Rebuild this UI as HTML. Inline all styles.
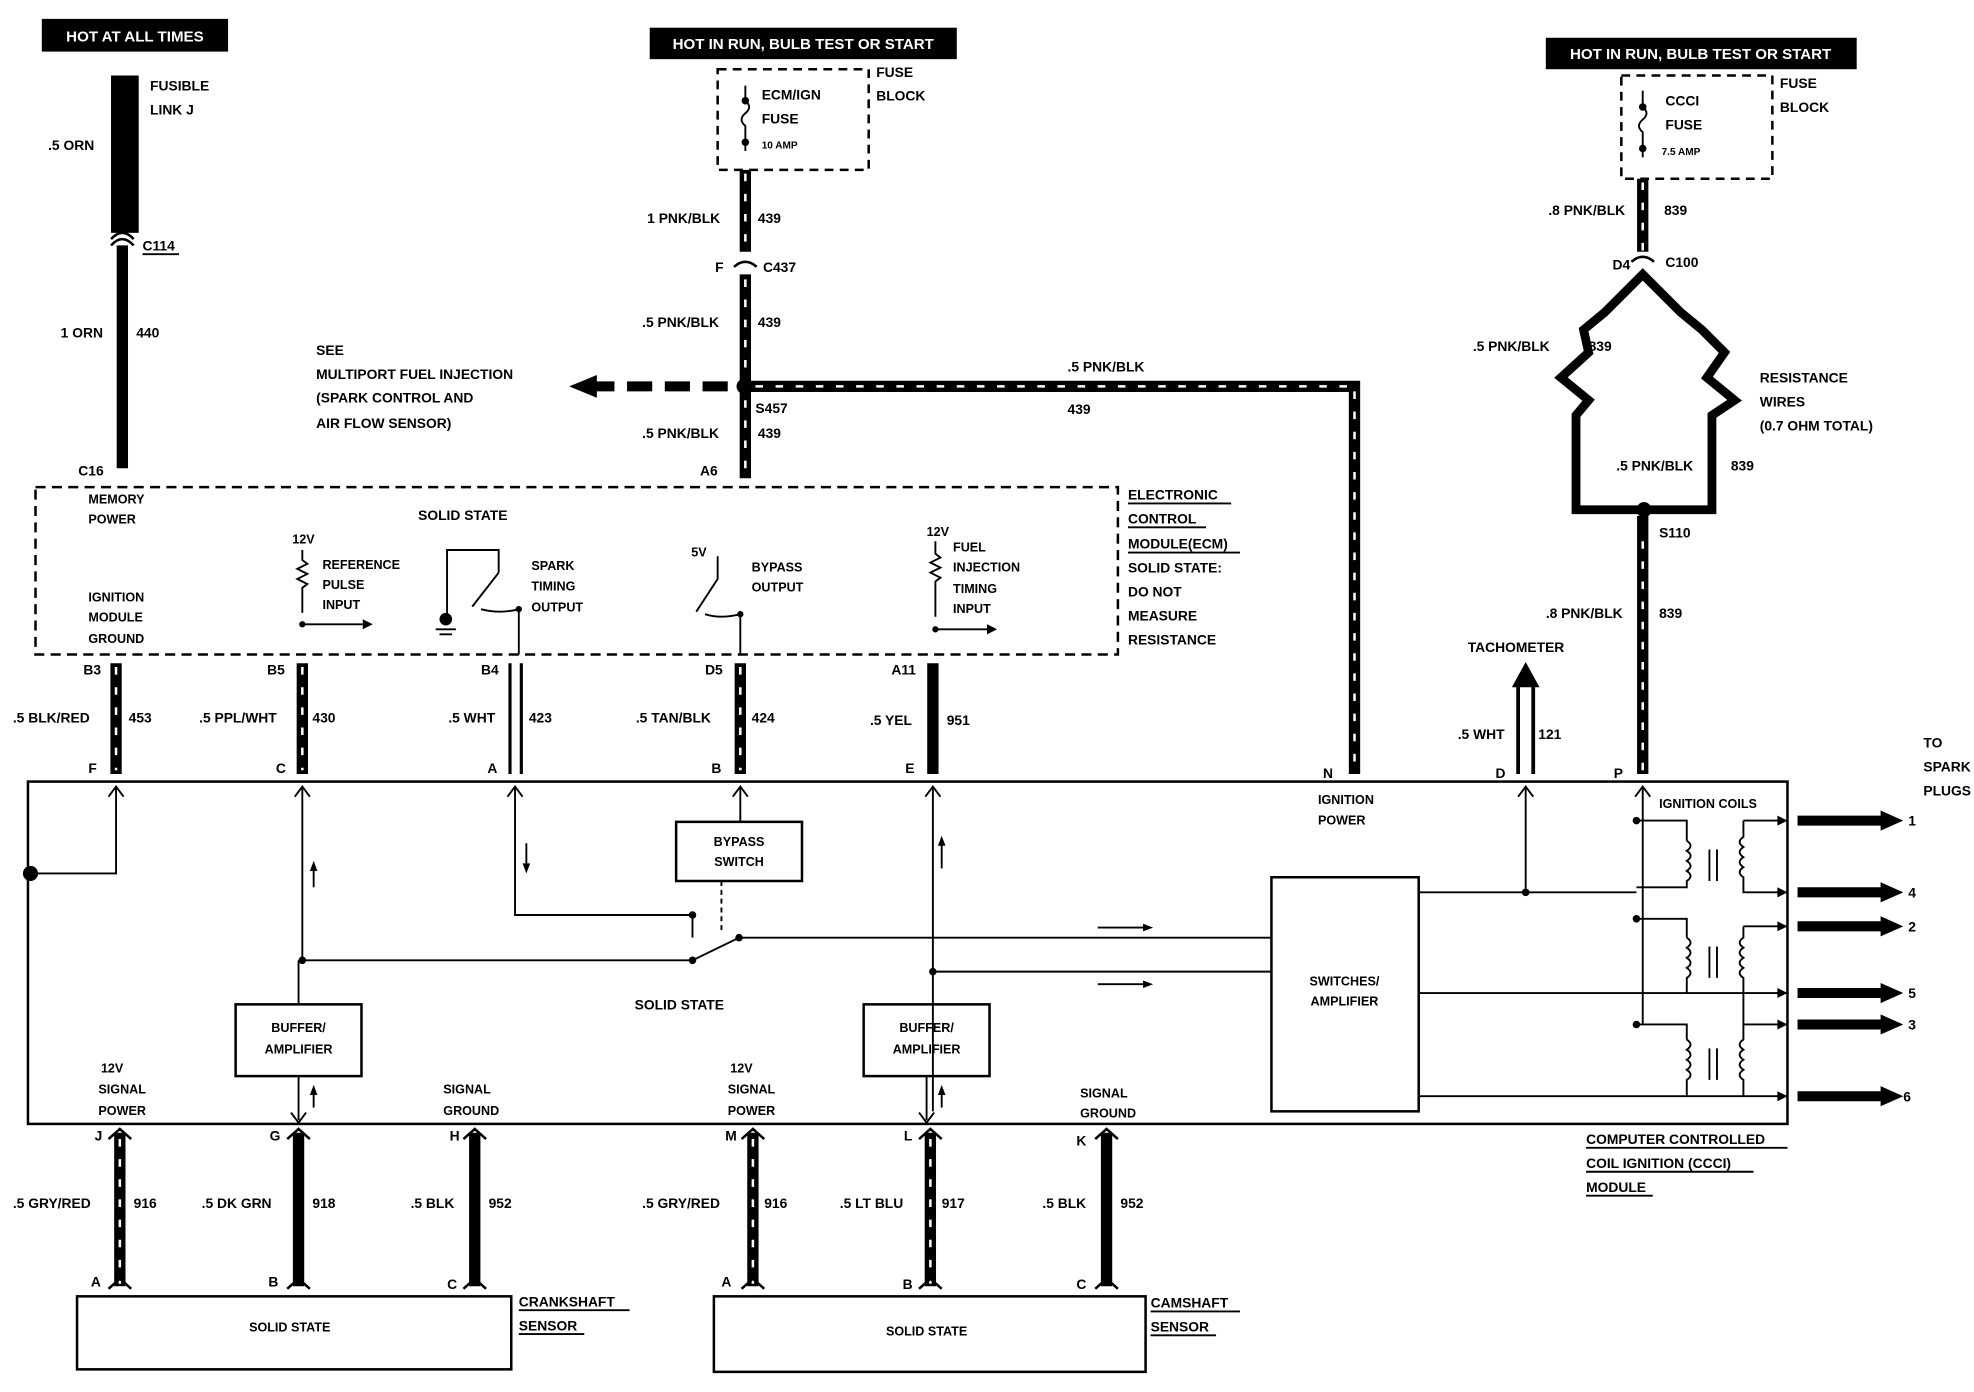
<!DOCTYPE html>
<html><head><style>
html,body{margin:0;padding:0;background:#fff}
svg{display:block}
text{font-family:"Liberation Sans",sans-serif;font-weight:bold;font-size:11px;fill:#000}
.w{stroke:#000;stroke-width:9;fill:none}
.s{stroke:#fff;stroke-width:2;stroke-dasharray:6 10;fill:none}
.l{stroke:#000;stroke-width:1.5;fill:none}
.b{stroke:#000;stroke-width:2;fill:none}
</style></head><body>
<svg width="1974" height="1392" viewBox="0 0 1568 1106" xmlns="http://www.w3.org/2000/svg">
<rect width="1568" height="1106" fill="#fff"/>
<!-- header labels -->
<rect x="33" y="15" width="148" height="26" fill="#000"/><text x="107" y="33" text-anchor="middle" style="fill:#fff;font-size:12px">HOT AT ALL TIMES</text>
<rect x="516" y="22" width="244" height="25" fill="#000"/><text x="638" y="39" text-anchor="middle" style="fill:#fff;font-size:12px">HOT IN RUN, BULB TEST OR START</text>
<rect x="1228" y="30" width="247" height="25" fill="#000"/><text x="1351" y="47" text-anchor="middle" style="fill:#fff;font-size:12px">HOT IN RUN, BULB TEST OR START</text>

<!-- fusible link -->
<rect x="88" y="60" width="22" height="125" fill="#000"/>
<text x="119" y="72">FUSIBLE</text><text x="119" y="91">LINK J</text>
<text x="38" y="119">.5 ORN</text>
<path class="b" d="M88 195 Q97 185 106 195"/><path class="b" d="M88 190 Q97 180 106 190"/>
<text x="113" y="199">C114</text><line class="l" x1="113" y1="202" x2="142" y2="202"/>
<line class="w" x1="97" y1="195" x2="97" y2="372"/>
<text x="48" y="268">1 ORN</text><text x="108" y="268">440</text>
<text x="62" y="378">C16</text>

<!-- ECM fuse -->
<rect x="570" y="55" width="120" height="80" class="b" stroke-dasharray="7 5"/>
<text x="605" y="79">ECM/IGN</text><text x="605" y="98">FUSE</text><text x="605" y="118" style="font-size:8px">10 AMP</text>
<text x="696" y="61">FUSE</text><text x="696" y="80">BLOCK</text>
<path class="l" d="M592 68 V80 q6 5 0 10 q-6 5 0 10 V120"/><circle cx="592" cy="80" r="3"/><circle cx="592" cy="113" r="3"/>
<line class="w" x1="592" y1="135" x2="592" y2="200"/><line class="s" x1="592" y1="138" x2="592" y2="200"/>
<text x="514" y="177">1 PNK/BLK</text><text x="602" y="177">439</text>
<text x="568" y="216">F</text><text x="606" y="216">C437</text>
<path class="b" d="M583 212 Q592 204 601 212"/>
<line class="w" x1="592" y1="218" x2="592" y2="380"/><line class="s" x1="592" y1="222" x2="592" y2="380"/>
<text x="510" y="260">.5 PNK/BLK</text><text x="602" y="260">439</text>
<text x="510" y="348">.5 PNK/BLK</text><text x="602" y="348">439</text>
<text x="600" y="328">S457</text>
<text x="556" y="378">A6</text>
<circle cx="591" cy="307" r="6"/>
<line x1="468" y1="307" x2="586" y2="307" stroke="#000" stroke-width="8" stroke-dasharray="20 10"/>
<polygon points="452,307 474,298 474,316"/>
<path class="w" d="M596 307 H1076 V615"/><path class="s" d="M600 307 H1076 V612"/>
<text x="848" y="295">.5 PNK/BLK</text><text x="848" y="329">439</text>
<text x="251" y="282">SEE</text><text x="251" y="301">MULTIPORT FUEL INJECTION</text><text x="251" y="320">(SPARK CONTROL AND</text><text x="251" y="340">AIR FLOW SENSOR)</text>

<!-- CCCI fuse -->
<rect x="1288" y="60" width="120" height="82" class="b" stroke-dasharray="7 5"/>
<text x="1323" y="84">CCCI</text><text x="1323" y="103">FUSE</text><text x="1320" y="123" style="font-size:8px">7.5 AMP</text>
<text x="1414" y="70">FUSE</text><text x="1414" y="89">BLOCK</text>
<path class="l" d="M1305 72 V85 q6 5 0 10 q-6 5 0 10 V125"/><circle cx="1305" cy="85" r="3"/><circle cx="1305" cy="118" r="3"/>
<line class="w" x1="1305" y1="142" x2="1305" y2="200"/><line class="s" x1="1305" y1="145" x2="1305" y2="200"/>
<text x="1230" y="171">.8 PNK/BLK</text><text x="1322" y="171">839</text>
<text x="1281" y="214">D4</text><text x="1323" y="212">C100</text>
<path class="b" d="M1296 208 Q1305 200 1314 208"/>
<path d="M1305 218 L1275 248 L1258 262 L1262 280 L1240 300 L1262 318 L1252 330 L1252 405 H1360 V330 L1378 318 L1356 300 L1370 280 L1352 262 L1335 248 Z" stroke="#000" stroke-width="7" fill="none"/>
<text x="1170" y="279">.5 PNK/BLK</text><text x="1262" y="279">839</text>
<text x="1284" y="374">.5 PNK/BLK</text><text x="1375" y="374">839</text>
<text x="1398" y="304">RESISTANCE</text><text x="1398" y="323">WIRES</text><text x="1398" y="342">(0.7 OHM TOTAL)</text>
<circle cx="1306" cy="405" r="6"/>
<line class="w" x1="1305" y1="410" x2="1305" y2="615"/><line class="s" x1="1305" y1="430" x2="1305" y2="612"/>
<text x="1318" y="427">S110</text>
<text x="1228" y="491">.8 PNK/BLK</text><text x="1318" y="491">839</text>
<text x="1166" y="518">TACHOMETER</text>
<path d="M1206 615 V542 H1218 V615" stroke="#000" stroke-width="3" fill="#fff"/>
<polygon points="1201,546 1212,526 1223,546"/>
<text x="1158" y="587">.5 WHT</text><text x="1222" y="587">121</text>

<!-- ECM box -->
<rect x="28" y="387" width="860" height="133" class="b" stroke-dasharray="8 5"/>
<text x="70" y="400" style="font-size:10px">MEMORY</text><text x="70" y="416" style="font-size:10px">POWER</text>
<text x="332" y="413">SOLID STATE</text>
<text x="70" y="478" style="font-size:10px">IGNITION</text><text x="70" y="494" style="font-size:10px">MODULE</text><text x="70" y="511" style="font-size:10px">GROUND</text>
<text x="232" y="432" style="font-size:10px">12V</text>
<text x="256" y="452" style="font-size:10px">REFERENCE</text><text x="256" y="468" style="font-size:10px">PULSE</text><text x="256" y="484" style="font-size:10px">INPUT</text>
<path class="l" d="M240 437 v8 l4 3 -8 4 8 4 -8 4 8 4 -4 3 v20 M240 496 H288"/><circle cx="240" cy="496" r="2.5"/>
<polygon points="288,492 296,496 288,500"/>
<text x="422" y="453" style="font-size:10px">SPARK</text><text x="422" y="469" style="font-size:10px">TIMING</text><text x="422" y="486" style="font-size:10px">OUTPUT</text>
<path class="l" d="M355 490 V437 H396 V455 M396 455 L375 482 M382 484 q15 4 30 0 M412 484 V520"/>
<circle cx="354" cy="492" r="5"/><circle cx="412" cy="484" r="2.5"/>
<line class="l" x1="346" y1="500" x2="362" y2="500"/><line class="l" x1="349" y1="504" x2="359" y2="504"/>
<text x="549" y="442" style="font-size:10px">5V</text>
<text x="597" y="454" style="font-size:10px">BYPASS</text><text x="597" y="470" style="font-size:10px">OUTPUT</text>
<path class="l" d="M570 442 V460 L553 486 M560 488 q12 4 28 0 M588 488 V520"/><circle cx="588" cy="488" r="2.5"/>
<text x="736" y="426" style="font-size:10px">12V</text>
<text x="757" y="438" style="font-size:10px">FUEL</text><text x="757" y="454" style="font-size:10px">INJECTION</text><text x="757" y="471" style="font-size:10px">TIMING</text><text x="757" y="487" style="font-size:10px">INPUT</text>
<path class="l" d="M743 430 v10 l4 3 -8 4 8 4 -8 4 8 4 -4 3 v28 M743 500 H784"/><circle cx="743" cy="500" r="2.5"/>
<polygon points="784,496 792,500 784,504"/>
<text x="896" y="397">ELECTRONIC</text><text x="896" y="416">CONTROL</text><text x="896" y="436">MODULE(ECM)</text>
<line class="l" x1="896" y1="400" x2="978" y2="400"/><line class="l" x1="896" y1="419" x2="958" y2="419"/><line class="l" x1="896" y1="439" x2="985" y2="439"/>
<text x="896" y="455">SOLID STATE:</text><text x="896" y="474">DO NOT</text><text x="896" y="493">MEASURE</text><text x="896" y="512">RESISTANCE</text>

<!-- ECM to CCCI wires -->
<g>
<line class="w" x1="92" y1="527" x2="92" y2="615"/><line class="s" x1="92" y1="530" x2="92" y2="612"/>
<line class="w" x1="240" y1="527" x2="240" y2="615"/><line class="s" x1="240" y1="530" x2="240" y2="612"/>
<path d="M405 527 V615 M414 527 V615" stroke="#000" stroke-width="2.5"/>
<line class="w" x1="588" y1="527" x2="588" y2="615"/><line class="s" x1="588" y1="530" x2="588" y2="612"/>
<line class="w" x1="741" y1="527" x2="741" y2="615"/>
</g>
<text x="66" y="536">B3</text><text x="212" y="536">B5</text><text x="382" y="536">B4</text><text x="560" y="536">D5</text><text x="708" y="536">A11</text>
<text x="10" y="574">.5 BLK/RED</text><text x="102" y="574">453</text>
<text x="158" y="574">.5 PPL/WHT</text><text x="248" y="574">430</text>
<text x="356" y="574">.5 WHT</text><text x="420" y="574">423</text>
<text x="505" y="574">.5 TAN/BLK</text><text x="597" y="574">424</text>
<text x="691" y="576">.5 YEL</text><text x="752" y="576">951</text>
<text x="70" y="614">F</text><text x="219" y="614">C</text><text x="387" y="614">A</text><text x="565" y="614">B</text><text x="719" y="614">E</text>
<text x="1051" y="618">N</text><text x="1188" y="618">D</text><text x="1282" y="618">P</text>

<!-- CCCI module -->
<rect x="22" y="621" width="1398" height="272" class="b" stroke-width="2.5"/>
<circle cx="24" cy="694" r="6"/>
<path class="l" d="M24 694 H92 V625 M240 625 V763 M409 625 V727 H550 M588 625 V653 M741 625 V883"/>
<path class="l" d="M86 633 L92 625 98 633 M234 633 L240 625 246 633 M403 633 L409 625 415 633 M582 633 L588 625 594 633 M735 633 L741 625 747 633 M1206 633 L1212 625 1218 633 M1299 633 L1305 625 1311 633"/>
<line class="l" x1="249" y1="705" x2="249" y2="690"/><polygon points="246,692 249,684 252,692"/>
<line class="l" x1="418" y1="670" x2="418" y2="688"/><polygon points="415,686 418,694 421,686"/>
<line class="l" x1="748" y1="690" x2="748" y2="670"/><polygon points="745,672 748,664 751,672"/>
<text x="1047" y="639" style="font-size:10px">IGNITION</text><text x="1047" y="655" style="font-size:10px">POWER</text>
<rect x="537" y="653" width="100" height="47" class="b"/>
<text x="587" y="672" text-anchor="middle" style="font-size:10px">BYPASS</text><text x="587" y="688" text-anchor="middle" style="font-size:10px">SWITCH</text>
<path class="l" d="M573 700 V740" stroke-dasharray="4 3"/>
<circle cx="550" cy="727" r="3"/><circle cx="550" cy="763" r="3"/><circle cx="587" cy="745" r="3"/>
<path class="l" d="M550 727 V745 M240 763 H550 L587 745 H1010 M741 772 H1010"/>
<circle cx="240" cy="763" r="3"/><circle cx="741" cy="772" r="3"/>
<line class="l" x1="872" y1="737" x2="910" y2="737"/><polygon points="908,734 916,737 908,740"/>
<line class="l" x1="872" y1="782" x2="910" y2="782"/><polygon points="908,779 916,782 908,785"/>
<rect x="187" y="798" width="100" height="57" class="b"/>
<text x="237" y="820" text-anchor="middle" style="font-size:10px">BUFFER/</text><text x="237" y="837" text-anchor="middle" style="font-size:10px">AMPLIFIER</text>
<line class="l" x1="237" y1="763" x2="237" y2="798"/>
<rect x="686" y="798" width="100" height="57" class="b"/>
<text x="736" y="820" text-anchor="middle" style="font-size:10px">BUFFER/</text><text x="736" y="837" text-anchor="middle" style="font-size:10px">AMPLIFIER</text>
<path class="l" d="M237 855 V890 M231 884 L237 892 243 884 M736 855 V890 M730 884 L736 892 742 884"/>
<line class="l" x1="249" y1="880" x2="249" y2="868"/><polygon points="246,870 249,862 252,870"/>
<line class="l" x1="748" y1="880" x2="748" y2="868"/><polygon points="745,870 748,862 751,870"/>
<text x="504" y="802">SOLID STATE</text>
<text x="80" y="852" style="font-size:10px">12V</text><text x="78" y="869" style="font-size:10px">SIGNAL</text><text x="78" y="886" style="font-size:10px">POWER</text>
<text x="352" y="869" style="font-size:10px">SIGNAL</text><text x="352" y="886" style="font-size:10px">GROUND</text>
<text x="580" y="852" style="font-size:10px">12V</text><text x="578" y="869" style="font-size:10px">SIGNAL</text><text x="578" y="886" style="font-size:10px">POWER</text>
<text x="858" y="872" style="font-size:10px">SIGNAL</text><text x="858" y="888" style="font-size:10px">GROUND</text>
<rect x="1010" y="697" width="117" height="186" class="b"/>
<text x="1068" y="783" text-anchor="middle" style="font-size:10px">SWITCHES/</text><text x="1068" y="799" text-anchor="middle" style="font-size:10px">AMPLIFIER</text>
<path class="l" d="M1127 709 H1300 M1212 625 V709 M1127 789 H1420 M1127 871 H1420 M1305 625 V814"/>
<circle cx="1212" cy="709" r="3"/>
<text x="1318" y="642" style="font-size:10px">IGNITION COILS</text>
<g class="l">
<path d="M1300 652 H1340 V668 M1300 730 H1340 V745 M1300 814 H1340 V826"/>
<path d="M1340 668 q6 4 0 8 q6 4 0 8 q6 4 0 8 q6 4 0 8 V705 H1300"/>
<path d="M1340 745 q6 4 0 8 q6 4 0 8 q6 4 0 8 q6 4 0 8 V789"/>
<path d="M1340 826 q6 4 0 8 q6 4 0 8 q6 4 0 8 q6 4 0 8 V871"/>
<path d="M1358 675 V700 M1364 675 V700 M1358 752 V777 M1364 752 V777 M1358 833 V858 M1364 833 V858"/>
<path d="M1385 652 V665 q-6 4 0 8 q-6 4 0 8 q-6 4 0 8 q-6 4 0 8 V709 H1420 M1385 652 H1420"/>
<path d="M1385 736 V745 q-6 4 0 8 q-6 4 0 8 q-6 4 0 8 q-6 4 0 8 V814 H1420 M1385 736 H1420"/>
<path d="M1385 814 V826 q-6 4 0 8 q-6 4 0 8 q-6 4 0 8 q-6 4 0 8 V871"/>
</g>
<circle cx="1300" cy="652" r="3"/><circle cx="1300" cy="730" r="3"/><circle cx="1300" cy="814" r="3"/>
<g>
<polygon points="1412,648 1420,652 1412,656"/><polygon points="1412,705 1420,709 1412,713"/><polygon points="1412,732 1420,736 1412,740"/>
<polygon points="1412,785 1420,789 1412,793"/><polygon points="1412,810 1420,814 1412,818"/><polygon points="1412,867 1420,871 1412,875"/>
</g>
<!-- spark plug arrows -->
<g stroke="#000" stroke-width="8">
<line x1="1428" y1="652" x2="1496" y2="652"/><line x1="1428" y1="709" x2="1496" y2="709"/><line x1="1428" y1="736" x2="1496" y2="736"/>
<line x1="1428" y1="789" x2="1496" y2="789"/><line x1="1428" y1="814" x2="1496" y2="814"/><line x1="1428" y1="871" x2="1496" y2="871"/>
</g>
<polygon points="1494,644 1512,652 1494,660"/><polygon points="1494,701 1512,709 1494,717"/><polygon points="1494,728 1512,736 1494,744"/>
<polygon points="1494,781 1512,789 1494,797"/><polygon points="1494,806 1512,814 1494,822"/><polygon points="1494,863 1512,871 1494,879"/>
<text x="1516" y="656">1</text><text x="1516" y="713">4</text><text x="1516" y="740">2</text><text x="1516" y="793">5</text><text x="1516" y="818">3</text><text x="1512" y="875">6</text>
<text x="1528" y="594">TO</text><text x="1528" y="613">SPARK</text><text x="1528" y="632">PLUGS</text>
<text x="1260" y="909">COMPUTER CONTROLLED</text><text x="1260" y="928">COIL IGNITION (CCCI)</text><text x="1260" y="947">MODULE</text>
<line class="l" x1="1260" y1="912" x2="1420" y2="912"/><line class="l" x1="1260" y1="931" x2="1393" y2="931"/><line class="l" x1="1260" y1="950" x2="1313" y2="950"/>

<!-- bottom wires -->
<g>
<line class="w" x1="95" y1="900" x2="95" y2="1022"/><line class="s" x1="95" y1="905" x2="95" y2="1020"/>
<line class="w" x1="237" y1="900" x2="237" y2="1022"/>
<line class="w" x1="377" y1="900" x2="377" y2="1022"/>
<line class="w" x1="598" y1="900" x2="598" y2="1022"/><line class="s" x1="598" y1="905" x2="598" y2="1020"/>
<line class="w" x1="739" y1="900" x2="739" y2="1022"/><line class="s" x1="739" y1="905" x2="739" y2="1020"/>
<line class="w" x1="879" y1="900" x2="879" y2="1022"/>
</g>
<path class="b" d="M86 905 L95 897 104 905 M228 905 L237 897 246 905 M368 905 L377 897 386 905 M589 905 L598 897 607 905 M730 905 L739 897 748 905 M870 905 L879 897 888 905 M86 1024 L95 1016 104 1024 M228 1024 L237 1016 246 1024 M368 1024 L377 1016 386 1024 M589 1024 L598 1016 607 1024 M730 1024 L739 1016 748 1024 M870 1024 L879 1016 888 1024"/>
<text x="75" y="906">J</text><text x="214" y="906">G</text><text x="357" y="906">H</text><text x="576" y="906">M</text><text x="718" y="906">L</text><text x="855" y="910">K</text>
<text x="10" y="960">.5 GRY/RED</text><text x="106" y="960">916</text>
<text x="160" y="960">.5 DK GRN</text><text x="248" y="960">918</text>
<text x="326" y="960">.5 BLK</text><text x="388" y="960">952</text>
<text x="510" y="960">.5 GRY/RED</text><text x="607" y="960">916</text>
<text x="667" y="960">.5 LT BLU</text><text x="748" y="960">917</text>
<text x="828" y="960">.5 BLK</text><text x="890" y="960">952</text>
<text x="72" y="1022">A</text><text x="213" y="1022">B</text><text x="355" y="1024">C</text>
<text x="573" y="1022">A</text><text x="717" y="1024">B</text><text x="855" y="1024">C</text>
<rect x="61" y="1030" width="345" height="58" class="b"/>
<text x="230" y="1058" text-anchor="middle" style="font-size:10px">SOLID STATE</text>
<rect x="567" y="1030" width="343" height="60" class="b"/>
<text x="736" y="1061" text-anchor="middle" style="font-size:10px">SOLID STATE</text>
<text x="412" y="1038">CRANKSHAFT</text><text x="412" y="1057">SENSOR</text>
<line class="l" x1="412" y1="1041" x2="500" y2="1041"/><line class="l" x1="412" y1="1060" x2="464" y2="1060"/>
<text x="914" y="1039">CAMSHAFT</text><text x="914" y="1058">SENSOR</text>
<line class="l" x1="914" y1="1042" x2="985" y2="1042"/><line class="l" x1="914" y1="1061" x2="966" y2="1061"/>
</svg>
</body></html>
